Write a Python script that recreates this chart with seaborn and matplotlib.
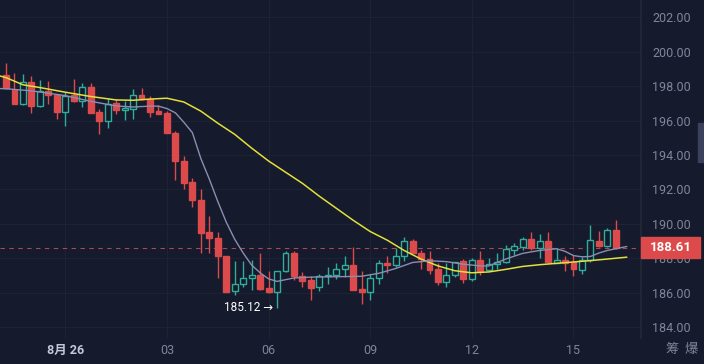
import matplotlib
matplotlib.use("Agg")
import matplotlib.pyplot as plt
import matplotlib.patches as mpatches
import numpy as np
import pandas as pd
import seaborn as sns

# 15-minute candles (index = candle position)
opens = [198.64, 197.78, 196.94, 198.24, 196.84, 197.73, 197.47, 196.50, 197.47, 197.15,
         197.93, 196.50, 195.98, 197.00, 196.60, 196.70, 197.47, 197.27, 196.57, 196.46,
         195.29, 193.63, 192.43, 191.40, 189.50, 189.17, 188.13, 186.10, 186.48, 186.84,
         187.03, 186.26, 186.06, 187.23, 188.30, 186.94, 186.74, 186.32, 186.94, 187.03,
         187.36, 187.61, 186.20, 186.06, 186.84, 187.71, 187.61, 188.10, 189.00, 188.33,
         187.94, 187.36, 186.64, 187.03, 187.81, 186.78, 187.87, 187.32, 187.66, 187.77,
         188.49, 188.67, 189.10, 188.59, 188.98, 187.71, 187.90, 187.75, 187.32, 187.87,
         189.01, 188.72, 189.66]
highs = [199.34, 198.79, 198.69, 198.59, 198.36, 198.30, 197.50, 197.66, 198.40, 198.17,
         198.17, 196.65, 197.33, 197.24, 197.14, 197.86, 197.92, 197.40, 196.89, 196.56,
         195.39, 193.93, 192.67, 192.00, 190.43, 189.50, 188.13, 187.81, 187.81, 187.90,
         188.30, 187.23, 187.23, 188.39, 188.39, 187.20, 186.94, 187.10, 187.48, 187.71,
         188.14, 188.65, 187.23, 187.10, 187.90, 188.14, 188.60, 189.26, 189.10, 188.50,
         188.40, 187.70, 187.71, 187.80, 187.95, 188.00, 188.39, 188.00, 188.30, 188.78,
         188.88, 189.26, 189.50, 189.42, 189.50, 188.60, 188.10, 188.20, 188.05, 189.95,
         189.56, 189.75, 190.24]
lows = [197.85, 196.94, 196.90, 196.46, 196.80, 196.94, 196.10, 195.70, 197.08, 196.80,
        196.42, 195.20, 195.57, 196.36, 196.03, 196.07, 197.20, 196.22, 196.36, 195.29,
        192.57, 192.00, 190.98, 188.30, 188.30, 186.84, 186.05, 185.87, 186.30, 186.16,
        186.16, 186.00, 185.12, 187.20, 186.74, 186.30, 185.57, 186.10, 186.50, 186.80,
        186.90, 186.16, 185.34, 185.57, 186.50, 187.13, 187.50, 187.81, 188.30, 187.40,
        187.10, 186.45, 186.35, 186.90, 186.58, 186.70, 187.00, 187.30, 187.40, 187.70,
        188.20, 188.50, 188.50, 188.00, 187.70, 187.70, 187.28, 186.97, 187.10, 187.80,
        188.65, 188.65, 188.55]
closes = [197.88, 196.94, 198.24, 196.84, 197.73, 197.47, 196.50, 197.45, 197.15, 197.93,
          196.42, 195.98, 196.94, 196.60, 196.75, 197.47, 197.24, 196.50, 196.36, 195.29,
          193.63, 192.37, 191.38, 189.46, 189.15, 188.10, 186.05, 186.48, 186.84, 187.03,
          186.20, 186.06, 187.23, 188.30, 186.94, 186.70, 186.26, 186.94, 187.03, 187.36,
          187.61, 186.16, 186.06, 186.84, 187.71, 187.61, 188.14, 189.00, 188.30, 187.94,
          187.32, 186.59, 187.03, 187.77, 186.78, 187.87, 187.23, 187.66, 187.77, 188.53,
          188.72, 189.10, 188.59, 188.98, 187.75, 187.87, 187.71, 187.36, 187.87, 189.07,
          188.69, 189.66, 188.61]

# moving averages as drawn on the chart
ma_fast_idx = [-0.7, 0, 3, 7, 10, 13, 15, 17, 18, 19, 20, 21, 22, 23, 24, 25, 26, 27, 28,
               29, 30, 31, 32, 33, 34, 36, 40, 42, 44, 46, 48, 50, 52, 54, 56, 57, 59, 61,
               63, 65, 66, 67, 68, 69, 70, 71, 72, 73.3]
ma_fast = [197.86, 197.85, 197.73, 197.45, 197.12, 196.85, 196.79, 196.84, 196.84, 196.70,
           196.45, 195.90, 195.30, 193.80, 192.60, 191.30, 190.10, 189.10, 188.30, 187.60,
           187.15, 186.80, 186.65, 186.75, 186.85, 186.90, 186.93, 186.95, 187.12, 187.40,
           187.75, 187.85, 187.80, 187.65, 187.55, 187.55, 187.95, 188.28, 188.45, 188.55,
           188.40, 188.15, 188.08, 188.10, 188.30, 188.45, 188.55, 188.68]
ma_slow_idx = [-0.7, 0, 2, 4, 7, 10, 13, 15, 17, 19, 21, 23, 25, 27, 29, 31, 33, 35, 37,
               39, 41, 43, 45, 47, 49, 51, 53, 55, 57, 59, 61, 63, 65, 67, 69, 71, 73.3]
ma_slow = [198.59, 198.50, 198.08, 197.92, 197.65, 197.40, 197.20, 197.18, 197.25, 197.30,
           197.08, 196.55, 195.85, 195.20, 194.40, 193.65, 193.00, 192.35, 191.60, 190.90,
           190.20, 189.55, 189.05, 188.45, 187.95, 187.55, 187.27, 187.15, 187.20, 187.35,
           187.52, 187.62, 187.70, 187.78, 187.86, 187.95, 188.06]

tick_pos = [7, 19, 31, 43, 55, 67]
tick_labels = ["8月 26", "03", "06", "09", "12", "15"]
price_ticks = [184, 186, 188, 190, 192, 194, 196, 198, 200, 202]
last_price = 188.61
low_idx = 32
low_price = 185.12

BG = "#151a2c"
GRID = "#1d2235"
RED = "#dc4a4c"
GREEN = "#2fae9c"
YELLOW = "#e2e03a"
GRAY_MA = "#8a8fb2"
LABEL = "#80859a"

sns.set_theme(style="dark", rc={"axes.facecolor": BG, "figure.facecolor": BG})
plt.rcParams["font.family"] = ["Roboto", "Noto Sans CJK SC", "DejaVu Sans"]

df = pd.DataFrame({"open": opens, "high": highs, "low": lows, "close": closes})
df["idx"] = np.arange(len(df))
df["up"] = df["close"] >= df["open"]

fig = plt.figure(figsize=(7.04, 3.64), dpi=100)
ax = fig.add_axes([0, 26 / 364, 641 / 704, 338 / 364])

# wicks
wick_colors = [GREEN if u else RED for u in df["up"]]
ax.vlines(df["idx"], df["low"], df["high"], colors=wick_colors, lw=1, zorder=2)

# bodies: up candles hollow, down candles filled
body_low = df[["open", "close"]].min(axis=1)
body_h = (df["close"] - df["open"]).abs().clip(lower=0.03)
ax.bar(df["idx"], body_h, bottom=body_low, width=0.7,
       color=[BG if u else RED for u in df["up"]],
       edgecolor=wick_colors, linewidth=1, zorder=3)

sns.lineplot(x=ma_slow_idx, y=ma_slow, ax=ax, color=YELLOW, lw=1.1, zorder=4)
sns.lineplot(x=ma_fast_idx, y=ma_fast, ax=ax, color=GRAY_MA, lw=1.0, zorder=4)

ax.axhline(last_price, color="#a84a57", ls=(0, (4, 4)), lw=0.8, zorder=1.5)

ax.set_xlim(-0.71, 74.97)
ax.set_ylim(183.36, 203.01)
ax.set_xticks(tick_pos)
ax.set_xticklabels(tick_labels)
ax.set_yticks(price_ticks)
ax.set_yticklabels([f"{p:.2f}" for p in price_ticks])
ax.yaxis.tick_right()
ax.grid(True, color=GRID, lw=0.8)
ax.set_axisbelow(True)
ax.tick_params(axis="y", length=0, pad=8, labelcolor=LABEL, labelsize=9)
ax.tick_params(axis="x", length=0, pad=4, labelcolor=LABEL, labelsize=9)
first = ax.get_xticklabels()[0]
first.set_color("#c3c8db")
first.set_fontweight("bold")
for s in ["top", "left", "bottom"]:
    ax.spines[s].set_visible(False)
ax.spines["right"].set_color("#232839")
ax.set_xlabel("")
ax.set_ylabel("")

# low marker
ax.text(low_idx - 0.45, low_price, "185.12 →", ha="right", va="center",
        color="white", fontsize=8.5, family=["Roboto", "DejaVu Sans"])

# last price tag
tf = ax.get_yaxis_transform()
ax.add_patch(mpatches.Rectangle((1.0, last_price - 0.6), 59 / 641, 1.2, transform=tf,
                                color=RED, clip_on=False, zorder=5))
ax.text(1.0 + 29.5 / 641, last_price, f"{last_price:.2f}", transform=tf, ha="center",
        va="center", color="white", fontsize=9.5, fontweight="bold", zorder=6)

fig.text(672 / 704, 1 - 349 / 364, "筹", color=LABEL, fontsize=9.5, ha="center",
         va="center", family=["Noto Sans CJK SC"])
fig.text(691 / 704, 1 - 349 / 364, "爆", color=LABEL, fontsize=9.5, ha="center",
         va="center", family=["Noto Sans CJK SC"])
fig.add_artist(mpatches.Rectangle((698 / 704, 1 - 162 / 364), 6 / 704, 39 / 364,
                                  transform=fig.transFigure, color="#39415f"))

fig.savefig("out.png", dpi=100, facecolor=BG)
